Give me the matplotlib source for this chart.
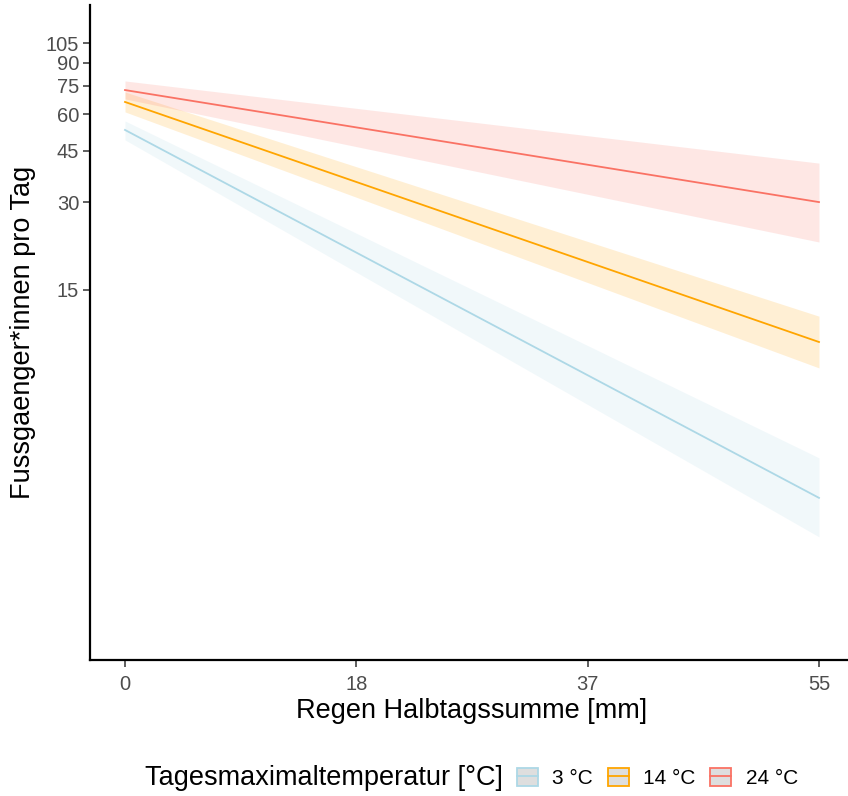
import matplotlib
matplotlib.use("Agg")
import matplotlib.pyplot as plt
from matplotlib.patches import Patch
from matplotlib.lines import Line2D
from matplotlib.ticker import FixedLocator, NullLocator

plt.rcParams['font.family'] = ['Liberation Sans', 'DejaVu Sans']

# Data
rain = [0, 55]
groups = ["3 °C", "14 °C", "24 °C"]
fit = {
    "3 °C": [53.0, 2.91],
    "14 °C": [66.1, 9.95],
    "24 °C": [72.6, 30.0],
}
lower = {
    "3 °C": [49.0, 2.14],
    "14 °C": [61.1, 8.11],
    "24 °C": [67.7, 21.9],
}
upper = {
    "3 °C": [56.9, 3.99],
    "14 °C": [71.5, 12.2],
    "24 °C": [78.0, 40.8],
}
colors = {"3 °C": "#ADD8E6", "14 °C": "#FFA500", "24 °C": "#FA7264"}
x_ticks = [0, 55 / 3, 110 / 3, 55]
x_labels = ["0", "18", "37", "55"]
y_ticks = [15, 30, 45, 60, 75, 90, 105]
y_labels = ["15", "30", "45", "60", "75", "90", "105"]

W, H = 848, 796
fig = plt.figure(figsize=(W / 100, H / 100), dpi=100)
pxu = 12.618
x0 = 125 - 2.75 * pxu
ax = fig.add_axes([x0 / W, 1 - 660 / H, 60.5 * pxu / W, 655 / H])

for g in groups:
    ax.fill_between(rain, lower[g], upper[g], color=colors[g], alpha=0.17, linewidth=0)
for g in groups:
    ax.plot(rain, fit[g], color=colors[g], linewidth=1.3)

ax.set_yscale('log')
ax.set_xlim(-2.75, 57.75)
ax.set_ylim(0.81, 142)
ax.yaxis.set_major_locator(FixedLocator(y_ticks))
ax.yaxis.set_minor_locator(NullLocator())
ax.set_yticklabels(y_labels)
ax.set_xticks(x_ticks)
ax.set_xticklabels(x_labels)

for s in ['top', 'right']:
    ax.spines[s].set_visible(False)
for s in ['left', 'bottom']:
    ax.spines[s].set_linewidth(1.6)
    ax.spines[s].set_color('black')
ax.tick_params(axis='both', which='major', length=5, width=1.1, color='#333333',
               labelsize=14.5, labelcolor='#4D4D4D')
ax.tick_params(axis='x', pad=6)
ax.tick_params(axis='y', pad=3)

ax.set_xlabel("Regen Halbtagssumme [mm]", fontsize=19.5, labelpad=3)
ax.set_ylabel("Fussgaenger*innen pro Tag", fontsize=19.5, labelpad=7)

fig.text(145 / W, 1 - 778 / H, "Tagesmaximaltemperatur [°C]", fontsize=19.5,
         va='center', ha='left')

handles = []
for g in groups:
    p = Patch(facecolor='#DEDEDE', edgecolor=colors[g], linewidth=1.3, alpha=1)
    l = Line2D([], [], color=colors[g], linewidth=1.3)
    handles.append((p, l))
leg = fig.legend(handles, groups, loc='center left', bbox_to_anchor=(517 / W, 1 - 778 / H),
                 ncol=3, frameon=False, fontsize=15, handlelength=1.0, handleheight=1.0,
                 handletextpad=0.7, columnspacing=0.7, borderpad=0, borderaxespad=0)

fig.savefig("out.png", dpi=100)
